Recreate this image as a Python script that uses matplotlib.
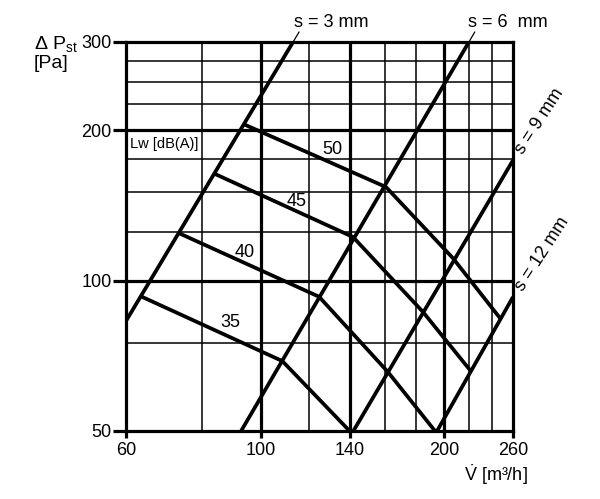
import numpy as np
import matplotlib
matplotlib.use("Agg")
import matplotlib.pyplot as plt
from matplotlib.ticker import NullLocator

plt.rcParams['font.family'] = ['Liberation Sans', 'DejaVu Sans']
plt.rcParams['mathtext.fontset'] = 'custom'
plt.rcParams['mathtext.rm'] = 'Liberation Sans'
plt.rcParams['mathtext.it'] = 'Liberation Sans'

# Achsen
x_ticks = [60, 100, 140, 200, 260]
y_ticks = [50, 100, 200, 300]
x_grid_thin = [80, 120, 160, 180, 220, 240]
x_grid_thick = [100, 140, 200]
y_grid_thin = [75, 125, 150, 175, 225, 250, 275]
y_grid_thick = [100, 200]

# Kennlinien Spaltweite s (V [m3/h], dP [Pa])
s3_v = [60, 113]
s3_p = [83, 300]
s6_v = [92.8, 220]
s6_p = [50, 300]
s9_v = [142, 260]
s9_p = [50, 174]
s12_v = [195, 260]
s12_p = [50, 92.7]

# Schallleistung Lw [dB(A)]
lw50_v = [93.5, 160.7, 207, 247.5]
lw50_p = [205.7, 153.8, 110.9, 84.1]
lw45_v = [84.1, 141.8, 184.9, 220.9]
lw45_p = [163.3, 122.2, 86.5, 66.2]
lw40_v = [73.4, 124.7, 161.9, 193.5]
lw40_p = [124.3, 92.8, 65.6, 50]
lw35_v = [63.7, 108.5, 140]
lw35_p = [92.8, 69.0, 50]

fig = plt.figure(figsize=(6, 4.99), dpi=100)
ax = fig.add_axes([126/600, 68/499, 387/600, 389/499])
ax.set_xscale('log')
ax.set_yscale('log')
ax.set_xlim(60, 260)
ax.set_ylim(50, 300)

thin = 1.1
thick = 2.3
for v in x_grid_thin:
    ax.axvline(v, color='black', lw=thin, zorder=1)
for v in x_grid_thick:
    ax.axvline(v, color='black', lw=thick, zorder=1)
for p in y_grid_thin:
    ax.axhline(p, color='black', lw=thin, zorder=1)
for p in y_grid_thick:
    ax.axhline(p, color='black', lw=thick, zorder=1)

for sp in ax.spines.values():
    sp.set_linewidth(thick)

# Kurven
for v, p in [(s3_v, s3_p), (s6_v, s6_p), (s9_v, s9_p), (s12_v, s12_p)]:
    ax.plot(v, p, color='black', lw=2.7, solid_capstyle='butt', zorder=3)
for v, p in [(lw50_v, lw50_p), (lw45_v, lw45_p), (lw40_v, lw40_p), (lw35_v, lw35_p)]:
    ax.plot(v, p, color='black', lw=2.7, solid_capstyle='butt', zorder=3)

# Hinweislinien zu den Beschriftungen s = 3 / 6 mm
for v, p in [(s3_v, s3_p), (s6_v, s6_p)]:
    k = np.log(p[1] / p[0]) / np.log(v[1] / v[0])
    v_top = v[1] * (314 / p[1]) ** (1 / k)
    ax.plot([v[1], v_top], [p[1], 314], color='black', lw=0.9, clip_on=False, zorder=3)

ax.xaxis.set_minor_locator(NullLocator())
ax.yaxis.set_minor_locator(NullLocator())
ax.set_xticks(x_ticks)
ax.set_xticklabels([str(t) for t in x_ticks])
ax.set_yticks(y_ticks)
ax.set_yticklabels([str(t) for t in y_ticks])
ax.tick_params(axis='x', length=5, width=thick, pad=3, labelsize=13)
ax.tick_params(axis='y', length=9.4, width=thick, pad=1, labelsize=13)

# Beschriftungen
ax.text(60.9, 187.6, 'Lw [dB(A)]', fontsize=10.5, ha='left', va='center')
ax.text(131, 183, '50', fontsize=13, ha='center', va='center')
ax.text(114.7, 144, '45', fontsize=13, ha='center', va='center')
ax.text(94.2, 114, '40', fontsize=13, ha='center', va='center')
ax.text(89, 82.6, '35', fontsize=13, ha='center', va='center')
ax.text(113.5, 328, 's = 3 mm', fontsize=13, ha='left', va='center', clip_on=False)
ax.text(219, 328, 's = 6  mm', fontsize=13, ha='left', va='center', clip_on=False)

fig.text(540/600, 1 - 121/499, 's = 9 mm', fontsize=13, rotation=57, ha='center', va='center')
fig.text(542/600, 1 - 254/499, 's = 12 mm', fontsize=13, rotation=57, ha='center', va='center')

fig.text(34/600, 1 - 44/499, r'Δ P$_{\mathrm{st}}$', fontsize=14, ha='left', va='center')
fig.text(34/600, 1 - 64/499, '[Pa]', fontsize=14, ha='left', va='center')
fig.text(528/600, 1 - 475/499, r'$\dot{\mathrm{V}}$ [m³/h]', fontsize=13, ha='right', va='center')

fig.savefig('out.png', dpi=100)
